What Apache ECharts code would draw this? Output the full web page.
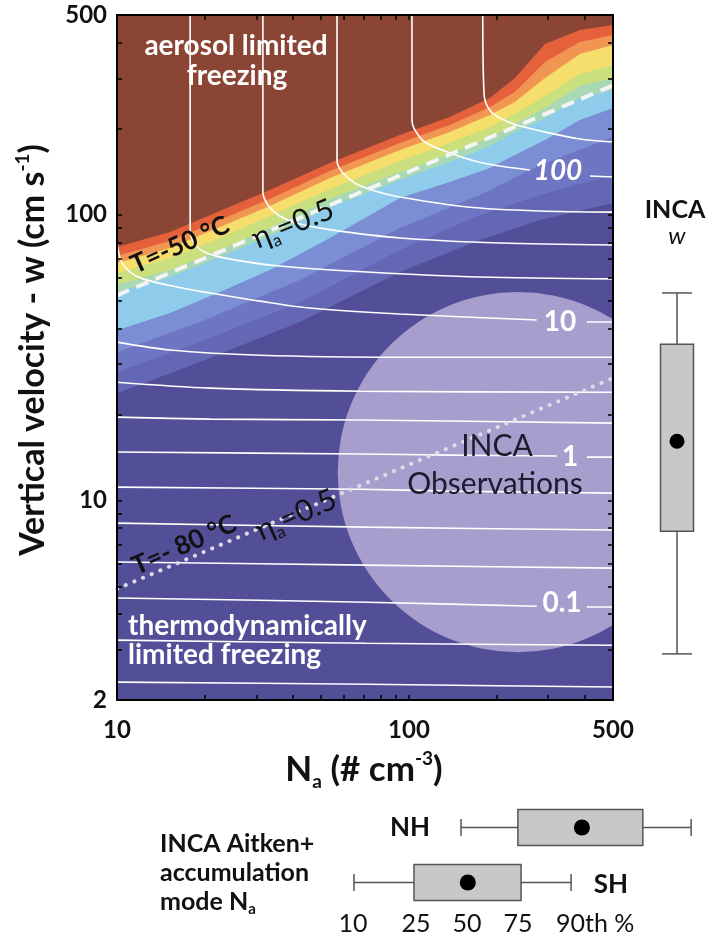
<!DOCTYPE html>
<html>
<head>
<meta charset="utf-8">
<style>
  html, body { margin: 0; padding: 0; background: #fff; }
  #chart { width: 709px; height: 936px; }
</style>
<script src="https://cdn.jsdelivr.net/npm/echarts@6/dist/echarts.min.js"></script>
</head>
<body>
<div id="chart"></div>
<script>
// 坐标轴刻度
var naTicks = [10, 20, 30, 40, 50, 60, 70, 80, 90, 100, 200, 300, 400, 500];
var naLabels = [10, 100, 500];
var wTicks = [2, 3, 4, 5, 6, 7, 8, 9, 10, 20, 30, 40, 50, 60, 70, 80, 90, 100, 200, 300, 400, 500];
var wLabels = [2, 10, 100, 500];

// 填色带的上边界 (Na -> w)
var bandNaWarm = [10, 15.19, 22.5, 33.4, 53.6, 93.1, 138, 189.3, 230.7, 292.4, 385, 500];
var edgeRed = [77.1, 86.9, 103.0, 122.0, 151.7, 190, 219.7, 256.1, 300.8, 395.7, 443, 461];
var edgeOrange = [71.6, 80.9, 95.7, 113.4, 142.2, 178.2, 206, 238.2, 268.8, 342.2, 402.2, 425.5];
var edgeYellow = [67.8, 76.4, 90.6, 107.2, 134.4, 168.4, 194.6, 223.3, 248.0, 300.8, 365.0, 392.4];
var edgeYellowGreen = [62.5, 70.5, 82.9, 98.9, 122.9, 154.1, 178.2, 202.8, 225, 260.3, 310.8, 334.1];
var edgeGreen = [56.8, 64.0, 75.2, 89.8, 113.4, 141.0, 163.1, 185.5, 207.6, 236.2, 282.0, 300.8];
var edgeLightBlue = [53.6, 60.5, 71.1, 84.2, 106.4, 132.2, 152.9, 173.9, 194.6, 218, 256.1, 273.2];
var edgePeri = [39.4, 45.3, 53.6, 64.0, 82.9, 114.3, 130.1, 145.6, 161.7, 182.5, 214.5, 236.2];
var bandNaCool = [10, 19.24, 42.3, 93.1, 175, 281, 500];
var edgeBlue2 = [33.0, 42.1, 59.1, 89.8, 117.2, 149.2, 187.0];
var edgeBlue3 = [28.1, 35.8, 49.4, 75.2, 99.7, 117.2, 137.7];
var edgeDark = [23.7, 30.5, 42.1, 63.0, 81.5, 95.7, 109.9];

// 冰晶数等值线 [Na, w]，'-' 处为标签留空
var contour178 = [[179, 500], [181, 262], [189, 232.5], [205, 218], [234, 206], [304, 193], [385, 184], [500, 179.6]];
var contour100 = [[102.4, 500], [102.4, 218], [104, 201], [113.4, 179.6], [138, 164.4], [179, 151.7], [259.5, 143.3], [330, '-'], [417, 136.5], [500, 135.5]];
var contour56 = [[56.7, 500], [56.7, 155], [59, 141], [65.3, 129], [76.5, 121], [93.1, 115.3], [158, 106.4], [281, 103], [500, 102.1]];
var contour32 = [[31.6, 500], [31.6, 120], [32.9, 108], [36.1, 98.9], [42.3, 92.7], [54.9, 88.3], [93.1, 82.9], [205, 79.6], [500, 78.3]];
var contour18 = [[17.8, 500], [17.8, 89.8], [18.5, 78.9], [20.3, 73.4], [24.4, 69.9], [36.1, 66.1], [71.8, 63.0], [175, 60.5], [500, 59.6]];
var contour10 = [[10, 80], [10.3, 69.4], [11.08, 63.0], [12.27, 59.6], [16.05, 55.8], [20.8, 53.2], [30.9, 49.8], [45.8, 47.1], [93.1, 44.9], [274, 42.8], [330, '-'], [407, 42.1], [500, 42.1]];
var contour5 = [[10, 35.8], [15.2, 33.6], [30.9, 32.2], [93.1, 31.7], [500, 31.7]];
var contour3 = [[10, 25.9], [20.8, 24.7], [67.9, 24.1], [500, 23.9]];
var contour2 = [[10, 19.56], [20.8, 19.25], [67.9, 19.1], [500, 18.63]];
var contour1 = [[10, 14.76], [67.9, 14.52], [138, 14.4], [321, 14.29], [360, '-'], [407, 14.17], [500, 14.17]];
var contour05 = [[10, 11.12], [67.9, 10.94], [138, 10.77], [500, 10.6]];
var contour03 = [[10, 8.32], [71.8, 8.06], [500, 7.87]];
var contour02 = [[10, 6.08], [71.8, 5.93], [500, 5.79]];
var contour01 = [[10, 4.55], [71.8, 4.40], [274, 4.26], [330, '-'], [407, 4.23], [500, 4.23]];
var contour005 = [[10, 3.24], [71.8, 3.16], [500, 3.11]];
var contour003 = [[10, 2.31], [71.8, 2.27], [500, 2.22]];

// 效率 0.5 参考线
var refDashed = [[10, 52.2], [500, 283.6]];
var refDotted = [[10, 4.9], [500, 26.8]];

// 观测范围 (圆心 Na, w 以及顶端 w)
var obsCircle = [[236, 12.55, 53.6]];

// 箱线图 10/25/50/75/90 百分位
var boxCats = ['SH', 'NH'];
var naBoxSH = [64.8, 104, 159, 242, 359];
var naBoxNH = [150.7, 236, 391, 632, 925];
var wBox = [2.9, 7.8, 16.1, 35.2, 53.2];

var FONT = 'Lato, "Open Sans", sans-serif';
var chart = echarts.init(document.getElementById('chart'));

function pairs(xs, ys) {
  return xs.map(function (x, i) { return [x, ys[i]]; });
}

function band(xs, ys, color) {
  return {
    type: 'line', data: pairs(xs, ys), symbol: 'none', silent: true, z: 1,
    lineStyle: { width: 0 },
    areaStyle: { color: color, opacity: 1, origin: 'start' }
  };
}

function contour(pts) {
  return {
    type: 'line', data: pts, symbol: 'none', silent: true, z: 3, smooth: 0.3,
    lineStyle: { color: '#ffffff', width: 1.6 }
  };
}

function stroke() { return { stroke: '#555', lineWidth: 1.5 }; }

// 横向箱线图
function renderHBox(params, api) {
  var c = api.value(0);
  var p = [1, 2, 3, 4, 5].map(function (d) { return api.coord([api.value(d), c]); });
  var cy = p[0][1], half = 18, cap = 8.5;
  return {
    type: 'group', children: [
      { type: 'line', shape: { x1: p[0][0], y1: cy, x2: p[1][0], y2: cy }, style: stroke() },
      { type: 'line', shape: { x1: p[3][0], y1: cy, x2: p[4][0], y2: cy }, style: stroke() },
      { type: 'line', shape: { x1: p[0][0], y1: cy - cap, x2: p[0][0], y2: cy + cap }, style: stroke() },
      { type: 'line', shape: { x1: p[4][0], y1: cy - cap, x2: p[4][0], y2: cy + cap }, style: stroke() },
      { type: 'rect', shape: { x: p[1][0], y: cy - half, width: p[3][0] - p[1][0], height: 2 * half },
        style: { fill: '#c8c8c8', stroke: '#555', lineWidth: 1.5 } },
      { type: 'circle', shape: { cx: p[2][0], cy: cy, r: 8 }, style: { fill: '#000' } }
    ]
  };
}

// 纵向箱线图
function renderVBox(params, api) {
  var x = api.value(0);
  var p = [1, 2, 3, 4, 5].map(function (d) { return api.coord([x, api.value(d)]); });
  var cx = p[0][0], half = 16.5, cap = 15;
  return {
    type: 'group', children: [
      { type: 'line', shape: { x1: cx, y1: p[0][1], x2: cx, y2: p[1][1] }, style: stroke() },
      { type: 'line', shape: { x1: cx, y1: p[3][1], x2: cx, y2: p[4][1] }, style: stroke() },
      { type: 'line', shape: { x1: cx - cap, y1: p[0][1], x2: cx + cap, y2: p[0][1] }, style: stroke() },
      { type: 'line', shape: { x1: cx - cap, y1: p[4][1], x2: cx + cap, y2: p[4][1] }, style: stroke() },
      { type: 'rect', shape: { x: cx - half, y: p[3][1], width: 2 * half, height: p[1][1] - p[3][1] },
        style: { fill: '#c8c8c8', stroke: '#555', lineWidth: 1.5 } },
      { type: 'circle', shape: { cx: cx, cy: p[2][1], r: 7.5 }, style: { fill: '#000' } }
    ]
  };
}

function renderCircle(params, api) {
  var c = api.coord([api.value(0), api.value(1)]);
  var t = api.coord([api.value(0), api.value(2)]);
  return { type: 'circle', shape: { cx: c[0], cy: c[1], r: c[1] - t[1] }, style: { fill: 'rgba(230,215,245,0.58)' } };
}

function txt(x, y, text, size, opts) {
  opts = opts || {};
  return {
    type: 'text', x: x, y: y, z: 100, rotation: (opts.rot || 0) * Math.PI / 180,
    style: {
      text: text, fontSize: size, fontFamily: FONT,
      fontWeight: opts.weight || 'bold', fontStyle: opts.style || 'normal',
      fill: opts.color || '#111', align: opts.align || 'center', verticalAlign: 'middle',
      rich: opts.rich
    }
  };
}

function fmt(v) { return String(Math.round(v)); }

function mainAxisX(pos, labels) {
  return {
    type: 'log', gridIndex: 0, min: 10, max: 500, position: pos, z: 10,
    axisLine: { show: true, lineStyle: { color: '#000', width: 2 } },
    axisTick: { show: true, inside: true, length: 5, customValues: naTicks, lineStyle: { color: '#000', width: 1.5 } },
    axisLabel: { show: labels, customValues: naLabels, margin: 18, fontFamily: FONT, fontWeight: 'bold', fontSize: 24, color: '#111', formatter: fmt },
    splitLine: { show: false }
  };
}

function mainAxisY(pos, labels) {
  return {
    type: 'log', gridIndex: 0, min: 2, max: 500, position: pos, z: 10,
    axisLine: { show: true, lineStyle: { color: '#000', width: 2 } },
    axisTick: { show: true, inside: true, length: 5, customValues: wTicks, lineStyle: { color: '#000', width: 1.5 } },
    axisLabel: { show: labels, customValues: wLabels, margin: 10, fontFamily: FONT, fontWeight: 'bold', fontSize: 24, color: '#111', formatter: fmt },
    splitLine: { show: false }
  };
}

var series = [
  band(bandNaWarm, edgeRed, '#E5613C'),
  band(bandNaWarm, edgeOrange, '#F19552'),
  band(bandNaWarm, edgeYellow, '#F6DE6C'),
  band(bandNaWarm, edgeYellowGreen, '#CADF7E'),
  band(bandNaWarm, edgeGreen, '#A9D8B4'),
  band(bandNaWarm, edgeLightBlue, '#8FCCEC'),
  band(bandNaWarm, edgePeri, '#7B8DD3'),
  band(bandNaCool, edgeBlue2, '#6E76C3'),
  band(bandNaCool, edgeBlue3, '#6367B4'),
  band(bandNaCool, edgeDark, '#524F98'),
  { type: 'custom', renderItem: renderCircle, data: obsCircle, encode: { x: 0, y: 1 }, clip: true, z: 2, silent: true }
];

[contour178, contour100, contour56, contour32, contour18, contour10, contour5, contour3, contour2,
 contour1, contour05, contour03, contour02, contour01, contour005, contour003].forEach(function (c) {
  series.push(contour(c));
});

series.push({
  type: 'line', data: refDashed, symbol: 'none', silent: true, z: 4,
  lineStyle: { color: '#f4f4f4', width: 4, type: [13, 8] }
});
series.push({
  type: 'line', data: refDotted, symbol: 'none', silent: true, z: 4,
  lineStyle: { color: '#dcdce6', width: 4, type: [0.1, 9.3], cap: 'round' }
});
series.push({
  type: 'custom', xAxisIndex: 2, yAxisIndex: 2, renderItem: renderVBox,
  data: [[0.5].concat(wBox)], encode: { x: 0, y: [1, 2, 3, 4, 5] }, silent: true
});
series.push({
  type: 'custom', xAxisIndex: 3, yAxisIndex: 3, renderItem: renderHBox,
  data: [[0].concat(naBoxSH), [1].concat(naBoxNH)], encode: { y: 0, x: [1, 2, 3, 4, 5] }, silent: true
});

var subRich = function (size, lh, sub) {
  return {
    m: { fontSize: size, fontFamily: FONT, fontWeight: 'bold', lineHeight: lh, fill: '#111' },
    s: { fontSize: sub, fontFamily: FONT, fontWeight: 'bold', lineHeight: lh - 12, verticalAlign: 'top', fill: '#111' },
    b: { fontSize: sub, fontFamily: FONT, fontWeight: 'bold', lineHeight: 10, verticalAlign: 'bottom', fill: '#111' }
  };
};

var etaRich = {
  m: { fontSize: 30, fontFamily: FONT, fontWeight: 'normal', lineHeight: 36, fill: '#111' },
  b: { fontSize: 17, fontFamily: FONT, fontWeight: 'normal', lineHeight: 8, verticalAlign: 'bottom', fill: '#111' }
};

var graphics = [
  txt(33, 350, '{m|Vertical velocity - w (cm s}{s|-1}{m|)}', 34, { rot: 90, rich: subRich(34, 40, 19) }),
  txt(364, 770, '{m|N}{b|a}{m| (# cm}{s|-3}{m|)}', 35, { rich: subRich(35, 42, 19) }),
  txt(236, 46, 'aerosol limited', 28, { color: '#fff' }),
  txt(237, 76, 'freezing', 28, { color: '#fff' }),
  txt(128, 626, 'thermodynamically', 28, { color: '#fff', align: 'left' }),
  txt(128, 655, 'limited freezing', 28, { color: '#fff', align: 'left' }),
  txt(180, 245, 'T=-50 °C', 26, { rot: 24 }),
  txt(293, 224, '{m|η}{b|a}{m|=0.5}', 30, { rot: 22, weight: 'normal', rich: etaRich }),
  txt(184, 545, 'T=- 80 °C', 26, { rot: 24 }),
  txt(296, 515, '{m|η}{b|a}{m|=0.5}', 30, { rot: 24, weight: 'normal', rich: etaRich }),
  txt(497, 446, 'INCA', 30, { weight: 'normal', color: '#1c1c2c' }),
  txt(495, 484, 'Observations', 30, { weight: 'normal', color: '#1c1c2c' }),
  txt(558, 171, '100', 28, { color: '#fff', style: 'italic' }),
  txt(560, 322, '10', 28, { color: '#fff' }),
  txt(570, 457, '1', 28, { color: '#fff' }),
  txt(562, 603, '0.1', 28, { color: '#fff' }),
  txt(675, 210, 'INCA', 25),
  txt(677, 236, 'w', 24, { weight: 'normal', style: 'italic' }),
  txt(410, 828, 'NH', 26),
  txt(611, 885, 'SH', 26),
  txt(160, 844, 'INCA Aitken+', 25, { align: 'left' }),
  txt(160, 873, 'accumulation', 25, { align: 'left' }),
  txt(160, 902, '{m|mode N}{b|a}', 25, { align: 'left', rich: subRich(25, 30, 15) }),
  txt(353, 924, '10', 25, { weight: 'normal' }),
  txt(416, 924, '25', 25, { weight: 'normal' }),
  txt(467, 924, '50', 25, { weight: 'normal' }),
  txt(518, 924, '75', 25, { weight: 'normal' }),
  txt(556, 924, '90th %', 25, { weight: 'normal', align: 'left' })
];

chart.setOption({
  animation: false,
  backgroundColor: '#ffffff',
  grid: [
    { left: 117, right: 96, top: 15, bottom: 236, show: true, backgroundColor: '#8B4534', borderWidth: 0 },
    { left: 645, width: 64, top: 15, bottom: 236 },
    { left: 117, right: 8, top: 800, height: 110 }
  ],
  xAxis: [
    mainAxisX('bottom', true),
    mainAxisX('top', false),
    { type: 'value', gridIndex: 1, min: 0, max: 1, show: false },
    { type: 'log', gridIndex: 2, min: 10, max: 1000, show: false }
  ],
  yAxis: [
    mainAxisY('left', true),
    mainAxisY('right', false),
    { type: 'log', gridIndex: 1, min: 2, max: 500, show: false },
    { type: 'category', gridIndex: 2, data: boxCats, show: false }
  ],
  series: series,
  graphic: graphics
});
</script>
</body>
</html>
